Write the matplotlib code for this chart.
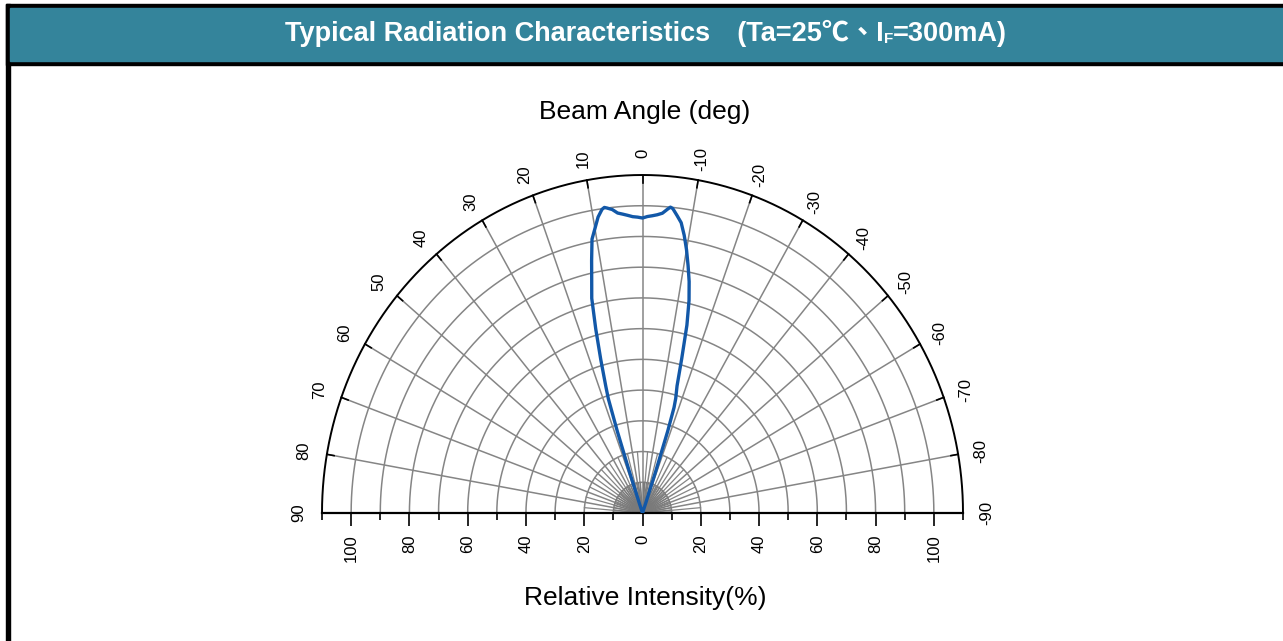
import numpy as np
import matplotlib

matplotlib.use("Agg")
import matplotlib.pyplot as plt
from matplotlib.patches import Rectangle

# --- data ------------------------------------------------------------------
# beam angle (deg, + is left of centre) and relative intensity (%)
angle_deg = [20, 19, 18.5, 18, 17.5, 17, 16, 15, 14, 13, 12, 11, 10, 9, 8, 7.5, 7, 6, 5, 4, 3,
             2, 1, 0, -1, -2, -3, -4, -5, -5.5, -6, -7, -8, -9, -10, -11, -12, -13, -14, -15,
             -16, -17, -17.5, -18, -18.5, -19, -20]
intensity = [0, 3, 14, 28, 39, 43, 52, 62, 72, 77.5, 84, 90.8, 94, 97.5, 99.8, 100.3, 100,
             99.3, 98, 97.5, 97, 96.5, 96.3, 96, 96.5, 96.8, 97.2, 97.8, 99.3, 100, 99.6, 97.5,
             95.4, 91.5, 87, 82, 77, 71, 63, 52, 43, 39, 36, 28, 14, 3, 0]

ring_radii = list(range(10, 110, 10))
spoke_angles = list(range(-90, 91, 10))
angle_labels = list(range(90, -91, -10))
major_ticks = list(range(-100, 101, 20))
minor_ticks = list(range(-110, 111, 20))

TITLE = "Typical Radiation Characteristics\u3000(Ta=25\u2103\u3001I"
R_MAX = 110
GRID = "#858585"
TEAL = "#34849b"
BLUE = "#1258a8"
FONT = ["Liberation Sans", "Noto Sans CJK TC", "DejaVu Sans"]

W, H = 1283, 641
fig = plt.figure(figsize=(W / 100, H / 100), dpi=100)
fig.patch.set_facecolor("white")


def fx(px):
    return px / W


def fy(px_from_top):
    return 1 - px_from_top / H


# frame + title bar
fig.patches.append(Rectangle((fx(6), 0), fx(4), fy(4), transform=fig.transFigure,
                             color="black", zorder=0))
fig.patches.append(Rectangle((fx(6), fy(65)), 1, fy(4) - fy(65), transform=fig.transFigure,
                             color="black", zorder=0))
fig.patches.append(Rectangle((fx(10), fy(61)), 1, fy(8) - fy(61), transform=fig.transFigure,
                             color=TEAL, zorder=1))

# polar grid drawn in a cartesian axes (x and y scales differ slightly, like the original)
ax = fig.add_axes([fx(322), fy(513), fx(641), fy(175) - fy(513)])
ax.set_xlim(-R_MAX, R_MAX)
ax.set_ylim(0, R_MAX)
ax.patch.set_alpha(0)
for s in ("top", "left", "right"):
    ax.spines[s].set_visible(False)
ax.spines["bottom"].set_linewidth(1.6)
ax.set_yticks([])

t = np.linspace(-np.pi / 2, np.pi / 2, 361)
for r in ring_radii:
    ax.plot(-r * np.sin(t), r * np.cos(t), color=GRID, lw=1.1, zorder=1)
ax.plot(-R_MAX * np.sin(t), R_MAX * np.cos(t), color="black", lw=1.4, zorder=3, clip_on=False)

# spokes: every 10 deg full length, finer ones close to the centre
for a in spoke_angles:
    th = np.radians(a)
    ax.plot([0, -R_MAX * np.sin(th)], [0, R_MAX * np.cos(th)], color=GRID, lw=1.1, zorder=1)
    ax.plot([-(R_MAX - 2.5) * np.sin(th), -R_MAX * np.sin(th)],
            [(R_MAX - 2.5) * np.cos(th), R_MAX * np.cos(th)], color="black", lw=1.2, zorder=3)
for a in range(-85, 90, 10):
    th = np.radians(a)
    ax.plot([0, -20 * np.sin(th)], [0, 20 * np.cos(th)], color=GRID, lw=0.9, zorder=1)
for a in range(-88, 90, 4):
    th = np.radians(a)
    ax.plot([0, -10 * np.sin(th)], [0, 10 * np.cos(th)], color="#7a7a7a", lw=0.8, zorder=1)

# radiation pattern
th = np.radians(angle_deg)
inten = np.array(intensity)
ax.plot(-inten * np.sin(th), inten * np.cos(th), color=BLUE, lw=2.4, zorder=4,
        solid_joinstyle="round")

# angle labels round the arc
for a in angle_labels:
    th = np.radians(a)
    ax.text(-118 * np.sin(th), 117 * np.cos(th), str(a), rotation=90, ha="center",
            va="center", fontsize=12, family=FONT, clip_on=False)

# intensity axis along the bottom
ax.set_xticks(major_ticks)
ax.set_xticklabels([str(abs(v)) for v in major_ticks], rotation=90, fontsize=12,
                   family=FONT)
ax.set_xticks(minor_ticks, minor=True)
ax.tick_params(axis="x", which="major", direction="out", length=9.5, width=1.2, pad=6)
ax.tick_params(axis="x", which="minor", direction="out", length=5, width=1.2)

fig.text(fx(645), fy(112), "Beam Angle (deg)", ha="center", va="center", fontsize=19,
         family=FONT)
fig.text(fx(645), fy(598), "Relative Intensity(%)", ha="center", va="center", fontsize=19,
         family=FONT)

# title in pieces so the F can sit as a subscript
parts = [(TITLE, 19.5, 0), ("F", 11, -2), ("=300mA)", 19.5, 0)]
texts = [fig.text(0, fy(41) + dy / H, s, fontsize=fs, weight="bold", color="white",
                  family=FONT, va="baseline", ha="left") for s, fs, dy in parts]
fig.canvas.draw()
rend = fig.canvas.get_renderer()
widths = [tx.get_window_extent(rend).width for tx in texts]
x = 646 - sum(widths) / 2
for tx, w, (s, fs, dy) in zip(texts, widths, parts):
    tx.set_x(fx(x))
    x += w

fig.savefig("out.png", dpi=100, facecolor="white")
